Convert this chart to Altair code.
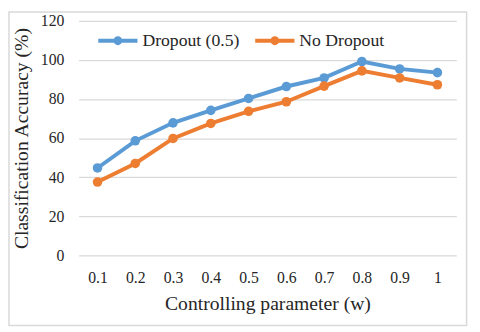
import altair as alt
import pandas as pd

params = ["0.1", "0.2", "0.3", "0.4", "0.5", "0.6", "0.7", "0.8", "0.9", "1"]
dropout = [44.7, 58.6, 67.8, 74.2, 80.3, 86.4, 90.8, 99.2, 95.4, 93.5]
no_dropout = [37.5, 47.0, 59.8, 67.5, 73.7, 78.6, 86.6, 94.4, 90.8, 87.3]
series_names = ["Dropout (0.5)", "No Dropout"]
colors = ["#5B9BD5", "#ED7D31"]
y_ticks = [0, 20, 40, 60, 80, 100, 120]

rows = []
for name, vals in zip(series_names, [dropout, no_dropout]):
    for p, v in zip(params, vals):
        rows.append({"param": p, "acc": v, "series": name})
df = pd.DataFrame(rows)

FONT = "Liberation Serif"
TXT = "#262626"

legend_path = ("M-1,0L1,0"
               "M-0.125,0A0.125,0.125,0,1,0,0.125,0A0.125,0.125,0,1,0,-0.125,0"
               "M-0.04,0A0.04,0.04,0,1,0,0.04,0A0.04,0.04,0,1,0,-0.04,0")

lines = alt.Chart(df).mark_line(
    strokeWidth=4,
    point=alt.OverlayMarkDef(filled=True, size=95),
).encode(
    x=alt.X("param:N", sort=params,
            scale=alt.Scale(type="point", padding=0.5),
            axis=alt.Axis(title="Controlling parameter (w)", labelAngle=0,
                          domain=False, ticks=False, grid=False,
                          labelPadding=15, titlePadding=8,
                          labelFont=FONT, labelFontSize=16, labelColor=TXT,
                          titleFont=FONT, titleFontSize=20, titleFontWeight="normal",
                          titleColor=TXT)),
    y=alt.Y("acc:Q", scale=alt.Scale(domain=[0, 120]),
            axis=alt.Axis(title="Classification Accuracy (%)", values=y_ticks,
                          domain=False, ticks=False, grid=True,
                          gridColor="#d9d9d9", gridWidth=1.2,
                          labelPadding=15, titlePadding=9,
                          labelFont=FONT, labelFontSize=16, labelColor=TXT,
                          titleFont=FONT, titleFontSize=20, titleFontWeight="normal",
                          titleColor=TXT)),
    color=alt.Color("series:N",
                    scale=alt.Scale(domain=series_names, range=colors),
                    legend=alt.Legend(title=None, orient="none", direction="horizontal",
                                      legendX=18, legendY=-2, padding=0,
                                      symbolType=legend_path, symbolSize=1600,
                                      symbolStrokeWidth=4, labelOffset=3,
                                      columnPadding=8,
                                      labelFont=FONT, labelFontSize=18,
                                      labelColor=TXT)),
)

border = alt.Chart(pd.DataFrame({"a": [0]})).mark_rect(
    fill="transparent", stroke="#d9d9d9", strokeWidth=1.5
).encode(
    x=alt.value(-71), x2=alt.value(395.5), y=alt.value(-9), y2=alt.value(310.5)
)

chart = alt.layer(border, lines).properties(
    width=385, height=239,
    autosize=alt.AutoSizeParams(type="none"),
    padding={"left": 72, "top": 10, "right": 16, "bottom": 72},
).configure_view(stroke="transparent")

chart.save("out.html", embed_options={"renderer": "svg", "actions": False})
